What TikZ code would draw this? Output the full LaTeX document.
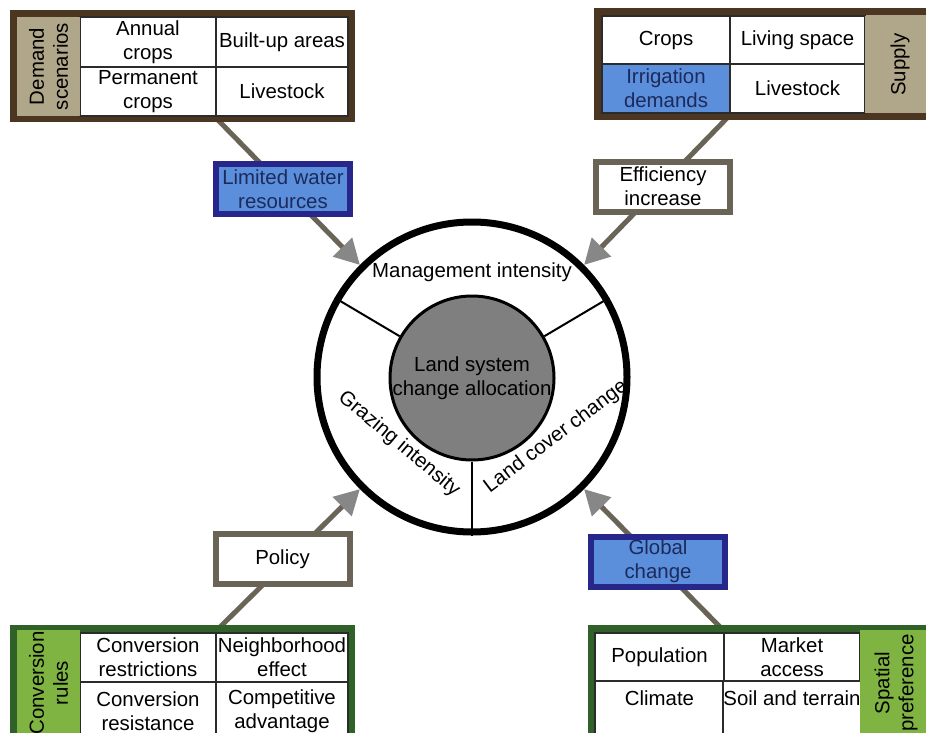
\documentclass[tikz,border=0pt]{standalone}
\usepackage{fontspec}
\setmainfont{Liberation Sans}
\usetikzlibrary{arrows.meta,positioning,backgrounds}
\definecolor{brownc}{HTML}{4B3621}
\definecolor{tanc}{HTML}{B0A78A}
\definecolor{greenfr}{HTML}{2F6128}
\definecolor{greenc}{HTML}{7FB442}
\definecolor{bluec}{HTML}{5B8EDB}
\definecolor{navyc}{HTML}{27268A}
\definecolor{bluetxt}{HTML}{1C2A5C}
\definecolor{boxgray}{HTML}{6A6457}
\definecolor{headc}{HTML}{878787}
\definecolor{corec}{HTML}{7F7F7F}
\definecolor{gridc}{HTML}{2B2B2B}

\begin{document}
\begin{tikzpicture}[
    x=0.5pt,y=-0.5pt,
    font=\fontsize{10.2}{12}\selectfont,
    tabframe/.style 2 args={draw=#1,fill=#2,line width=3.5pt,inner sep=0pt},
    tcell/.style={draw=gridc,fill=white,line width=1pt,inner sep=0pt,align=center},
    tablabel/.style={fill=#1,inner sep=0pt,align=center,rotate=90},
    midbox/.style 2 args={draw=#1,fill=#2,line width=3pt,inner sep=0pt,align=center,
      minimum width=67pt,minimum height=25pt},
    feed/.style={draw=boxgray,line width=2.5pt,-{Triangle[length=12.5pt,width=13pt,color=headc]}},
    spoke/.style={draw=black,line width=1pt},
  ]

\useasboundingbox (0,0) rectangle (926,733);

% ======================= centre: land system ring =======================
\node[circle,draw=black,line width=3.5pt,minimum size=155pt,inner sep=0pt] (ring) at (472,377) {};
\node[circle,draw=black,fill=corec,line width=1.5pt,minimum size=82pt,inner sep=0pt,align=center]
  (core) at (472,378) {Land system\\change allocation};
\draw[spoke] (core.30) -- (ring.30);
\draw[spoke] (core.150) -- (ring.150);
\draw[spoke] (core.270) -- (ring.270);
\node (mgmt) at (472,272) {Management intensity};
\node[rotate=-40] (graz) at (399,444) {Grazing intensity};
\node[rotate=37] (lcc) at (556,437) {Land cover change};

% ======================= top left: demand scenarios =======================
\node[tabframe={brownc}{tanc},minimum width=169pt,minimum height=52.5pt] (dsFrame) at (182.5,66) {};
\node[tcell,minimum width=68pt,minimum height=25pt] (dsAnnual) at (148,42) {Annual\\crops};
\node[tcell,minimum width=66pt,minimum height=25pt] (dsBuilt) at (282,42) {Built-up areas};
\node[tcell,minimum width=68pt,minimum height=24.5pt] (dsPerm) at (148,91.5) {Permanent\\crops};
\node[tcell,minimum width=66pt,minimum height=24.5pt] (dsLive) at (282,91.5) {Livestock};
\node[tablabel=tanc,minimum width=49.5pt,minimum height=31.5pt] (dsLabel) at (48.5,66.5) {Demand\\scenarios};

% ======================= top right: supply =======================
\node[tabframe={brownc}{tanc},minimum width=170.5pt,minimum height=52.5pt] (spFrame) at (768,64) {};
\node[tcell,minimum width=64pt,minimum height=24pt] (spCrops) at (666,40) {Crops};
\node[tcell,minimum width=67.5pt,minimum height=24pt] (spLiving) at (797.5,40) {Living space};
\node[tcell,fill=bluec,text=bluetxt,minimum width=64pt,minimum height=24.5pt] (spIrr) at (666,88.5) {Irrigation\\demands};
\node[tcell,minimum width=67.5pt,minimum height=24.5pt] (spLive) at (797.5,88.5) {Livestock};
\node[tablabel=tanc,minimum width=48.5pt,minimum height=35pt] (spLabel) at (900,64.5) {Supply};

% ======================= bottom left: conversion rules =======================
\node[tabframe={greenfr}{greenc},minimum width=169pt,minimum height=57.5pt] (crFrame) at (182.5,686) {};
\node[tcell,minimum width=68pt,minimum height=24.5pt] (crRestr) at (148,657.5) {Conversion\\restrictions};
\node[tcell,minimum width=66pt,minimum height=24.5pt] (crNeigh) at (282,657.5) {Neighborhood\\effect};
\node[tcell,minimum width=68pt,minimum height=29pt] (crResist) at (148,711) {Conversion\\resistance};
\node[tcell,minimum width=66pt,minimum height=29pt] (crComp) at (282,711) {Competitive\\advantage};
\node[tablabel=greenc,minimum width=53.5pt,minimum height=31.5pt] (crLabel) at (48.5,683) {Conversion\\rules};

% ======================= bottom right: spatial preference =======================
\node[tabframe={greenfr}{greenc},minimum width=173.5pt,minimum height=57.5pt] (prFrame) at (765,686) {};
\node[tcell,minimum width=64.5pt,minimum height=24pt] (prPop) at (659.5,657) {Population};
\node[tcell,minimum width=68pt,minimum height=24pt] (prMarket) at (792,657) {Market\\access};
\node[tcell,minimum width=64.5pt,minimum height=29.5pt] (prClim) at (659.5,710.5) {Climate\\\mbox{}};
\node[tcell,minimum width=68pt,minimum height=29.5pt] (prSoil) at (792,710.5) {Soil and terrain\\\mbox{}};
\node[tablabel=greenc,minimum width=53.5pt,minimum height=36pt] (prLabel) at (896,683) {Spatial\\preference};

% ======================= driver boxes =======================
\node[midbox={navyc}{bluec},text=bluetxt] (water) at (283,189) {Limited water\\resources};
\node[midbox={boxgray}{white}] (effic) at (663,186.5) {Efficiency\\increase};
\node[midbox={boxgray}{white}] (policy) at (282.5,559) {Policy};
\node[midbox={navyc}{bluec},text=bluetxt] (global) at (658,561.5) {Global\\change};

% feeds into the ring, behind the boxes
\begin{scope}[on background layer]
  \draw[feed] (dsLive.south west) -- (ring.135);
  \draw[feed] (spIrr.south east) -- (ring.45);
  \draw[feed] (crNeigh.north west) -- (ring.225);
  \draw[feed] (prPop.north east) -- (ring.315);
\end{scope}

\end{tikzpicture}
\end{document}
